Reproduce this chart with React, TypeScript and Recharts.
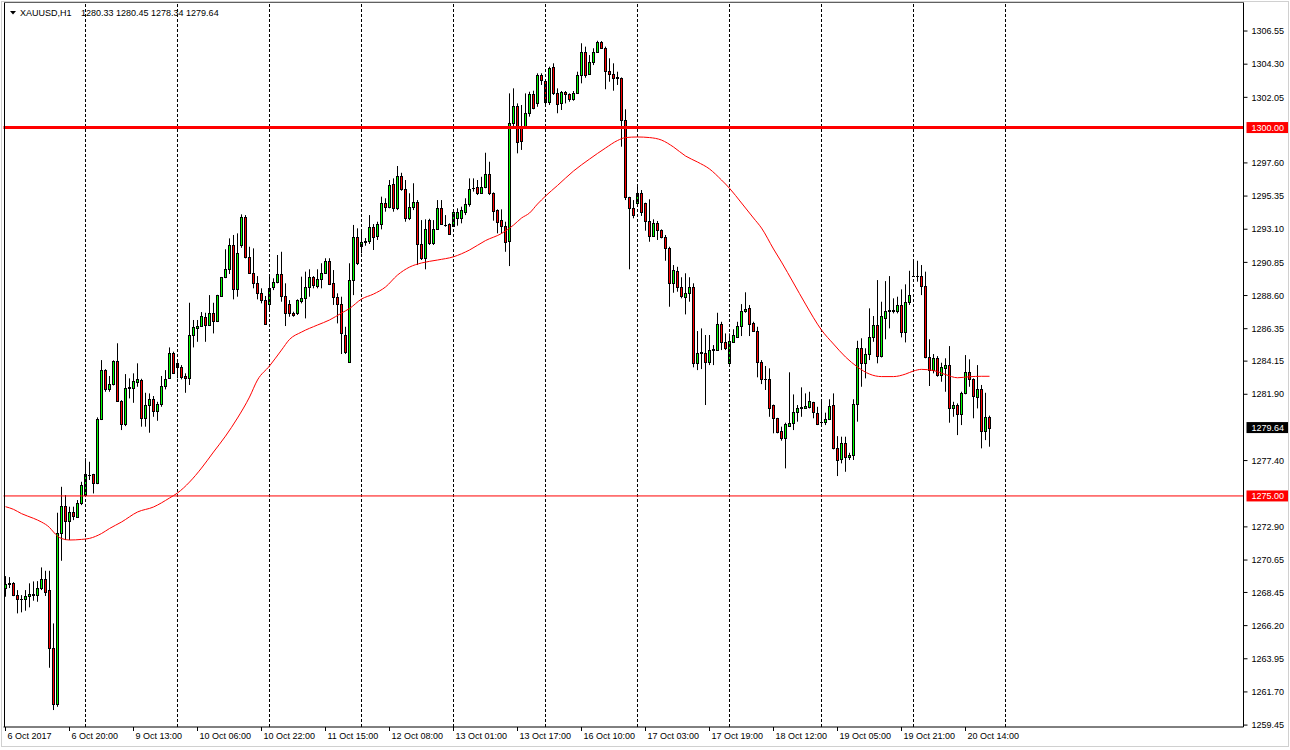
import { ComposedChart, Bar, Line, XAxis, YAxis, ReferenceLine } from "recharts";

// XAUUSD H1 candles (oldest first)
const OPEN = [
  1268.77, 1269.05, 1269.10, 1268.25, 1268.00, 1267.98, 1268.19, 1268.28, 1268.25, 1268.77,
  1269.34, 1268.61, 1264.70, 1260.85, 1272.46, 1274.31, 1273.32, 1273.89, 1273.60, 1274.54,
  1275.06, 1276.42, 1276.46, 1275.86, 1280.20, 1283.54, 1282.23, 1282.57, 1284.15, 1281.46,
  1279.86, 1282.30, 1282.34, 1282.75, 1282.87, 1280.31, 1281.17, 1281.56, 1280.78, 1281.22,
  1282.46, 1282.98, 1284.68, 1284.04, 1283.73, 1283.14, 1282.98, 1285.90, 1286.42, 1286.53,
  1287.12, 1286.58, 1287.43, 1286.86, 1288.60, 1289.84, 1290.38, 1292.03, 1289.02, 1292.03,
  1293.91, 1291.19, 1290.15, 1289.43, 1288.75, 1288.29, 1288.00, 1289.16, 1289.50, 1290.06,
  1288.60, 1288.00, 1287.39, 1287.39, 1288.25, 1288.41, 1289.16, 1289.84, 1289.25, 1289.70,
  1290.15, 1290.94, 1289.43, 1288.48, 1288.02, 1285.92, 1284.11, 1289.65, 1292.55, 1291.98,
  1292.21, 1292.27, 1293.27, 1292.64, 1293.45, 1294.86, 1294.63, 1296.17, 1294.52, 1296.71,
  1295.81, 1293.84, 1294.59, 1294.93, 1292.08, 1291.12, 1293.72, 1292.14, 1293.09, 1294.52,
  1293.41, 1293.45, 1293.34, 1293.84, 1293.84, 1294.25, 1294.79, 1295.92, 1295.98, 1295.54,
  1295.98, 1296.85, 1295.58, 1294.40, 1293.72, 1293.32, 1292.32, 1300.28, 1301.46, 1300.06,
  1300.06, 1301.00, 1302.26, 1301.69, 1303.57, 1303.16, 1301.75, 1304.09, 1302.32, 1301.64,
  1302.41, 1302.26, 1301.92, 1302.32, 1303.57, 1305.11, 1303.61, 1304.43, 1305.15, 1305.78,
  1305.38, 1303.86, 1303.61, 1303.45, 1303.38, 1300.51, 1295.27, 1294.52, 1294.90, 1295.58,
  1294.86, 1293.68, 1292.66, 1293.50, 1293.05, 1292.55, 1291.84, 1289.47, 1290.26, 1289.20,
  1288.52, 1288.79, 1289.20, 1284.04, 1284.77, 1284.72, 1284.11, 1284.88, 1284.90, 1286.67,
  1285.46, 1284.00, 1285.46, 1285.80, 1286.51, 1287.55, 1287.75, 1286.71, 1286.21, 1284.11,
  1282.93, 1282.93, 1281.17, 1280.27, 1279.40, 1278.91, 1279.76, 1279.93, 1280.67, 1280.94,
  1281.00, 1281.05, 1281.35, 1280.60, 1280.04, 1280.04, 1280.20, 1281.17, 1278.27, 1277.48,
  1278.57, 1277.62, 1277.77, 1281.24, 1285.02, 1284.00, 1284.61, 1285.76, 1286.60, 1284.49,
  1287.09, 1287.57, 1287.57, 1287.57, 1287.96, 1286.10, 1288.14, 1289.92, 1289.92, 1289.92,
  1289.25, 1284.45, 1283.54, 1284.34, 1283.20, 1283.66, 1283.88, 1280.94, 1281.17, 1280.54,
  1281.96, 1283.39, 1282.93, 1281.73, 1282.23, 1279.42, 1280.33,
];
const HIGH = [
  1269.56, 1269.49, 1269.15, 1268.61, 1268.27, 1268.61, 1269.07, 1269.20, 1269.22, 1270.15,
  1269.92, 1269.92, 1266.35, 1273.86, 1275.62, 1275.06, 1274.27, 1274.27, 1274.72, 1275.96,
  1277.55, 1277.32, 1276.50, 1280.33, 1284.22, 1283.60, 1283.14, 1284.20, 1285.36, 1281.50,
  1283.27, 1282.98, 1283.32, 1284.00, 1282.95, 1282.00, 1281.96, 1281.78, 1281.39, 1283.14,
  1283.54, 1285.08, 1284.79, 1284.08, 1283.88, 1283.32, 1288.11, 1286.94, 1286.94, 1287.48,
  1287.43, 1288.63, 1288.11, 1288.65, 1289.86, 1291.74, 1292.48, 1292.71, 1292.82, 1294.11,
  1294.06, 1291.91, 1291.80, 1289.92, 1289.09, 1288.57, 1289.88, 1289.77, 1291.35, 1291.57,
  1289.43, 1288.29, 1287.50, 1288.34, 1289.88, 1290.22, 1290.38, 1289.92, 1290.38, 1290.79,
  1291.13, 1291.13, 1290.33, 1288.75, 1288.52, 1286.48, 1290.79, 1293.39, 1293.16, 1292.93,
  1292.50, 1294.06, 1293.45, 1293.61, 1295.31, 1295.20, 1296.44, 1296.55, 1297.39, 1296.93,
  1296.44, 1295.54, 1296.22, 1295.08, 1293.72, 1293.77, 1293.81, 1293.72, 1295.08, 1295.08,
  1294.06, 1293.50, 1294.30, 1294.52, 1294.63, 1295.20, 1296.55, 1296.55, 1296.44, 1296.66,
  1298.29, 1297.68, 1295.60, 1294.45, 1294.45, 1293.61, 1302.32, 1302.66, 1301.64, 1301.53,
  1302.32, 1302.43, 1302.50, 1303.68, 1303.68, 1303.23, 1304.13, 1304.36, 1302.66, 1302.48,
  1302.48, 1302.32, 1302.48, 1303.79, 1305.72, 1305.49, 1304.92, 1305.38, 1305.89, 1305.87,
  1305.49, 1304.70, 1304.36, 1303.79, 1303.40, 1301.24, 1295.30, 1295.08, 1296.17, 1295.76,
  1294.90, 1295.13, 1293.77, 1293.66, 1293.09, 1292.71, 1291.91, 1290.67, 1290.55, 1289.84,
  1290.11, 1289.84, 1289.43, 1286.19, 1286.37, 1285.92, 1285.92, 1285.24, 1287.43, 1286.82,
  1286.03, 1286.03, 1286.31, 1286.82, 1288.02, 1288.82, 1287.96, 1286.82, 1286.48, 1284.22,
  1283.82, 1283.66, 1281.20, 1280.30, 1279.70, 1279.97, 1283.39, 1281.89, 1281.17, 1282.37,
  1281.96, 1282.07, 1281.39, 1281.05, 1281.56, 1280.65, 1281.56, 1281.96, 1279.06, 1279.02,
  1279.02, 1277.93, 1281.56, 1285.53, 1285.70, 1285.02, 1287.73, 1287.21, 1289.65, 1288.18,
  1289.58, 1289.92, 1288.41, 1288.52, 1289.02, 1289.36, 1290.28, 1290.89, 1290.96, 1290.67,
  1290.22, 1285.63, 1284.63, 1284.49, 1284.04, 1284.34, 1285.17, 1281.39, 1281.28, 1282.07,
  1284.56, 1284.27, 1282.98, 1283.88, 1282.53, 1282.00, 1280.45,
];
const LOW = [
  1268.16, 1268.75, 1268.20, 1267.03, 1267.10, 1267.21, 1267.44, 1267.89, 1267.82, 1268.61,
  1268.21, 1263.34, 1260.47, 1260.69, 1270.60, 1272.01, 1272.01, 1273.36, 1273.52, 1274.38,
  1274.95, 1276.08, 1275.17, 1275.80, 1280.15, 1282.07, 1282.07, 1282.50, 1281.40, 1279.47,
  1279.74, 1281.62, 1281.32, 1282.41, 1279.70, 1279.70, 1279.29, 1280.37, 1280.10, 1281.05,
  1282.23, 1282.95, 1283.33, 1282.98, 1282.91, 1282.00, 1282.53, 1285.08, 1285.46, 1286.48,
  1285.46, 1286.53, 1286.03, 1286.80, 1288.55, 1289.78, 1290.06, 1288.34, 1288.52, 1291.84,
  1291.12, 1290.10, 1289.09, 1288.34, 1288.07, 1286.60, 1287.62, 1288.97, 1289.43, 1288.18,
  1286.53, 1287.16, 1287.16, 1287.28, 1288.07, 1287.05, 1288.52, 1289.09, 1289.09, 1289.09,
  1290.10, 1289.31, 1287.96, 1286.71, 1284.63, 1284.63, 1284.10, 1288.63, 1290.67, 1291.46,
  1291.98, 1292.10, 1291.69, 1292.37, 1293.09, 1294.29, 1294.52, 1294.29, 1294.40, 1295.71,
  1293.61, 1293.72, 1294.40, 1290.67, 1291.01, 1290.38, 1292.03, 1292.03, 1293.05, 1293.39,
  1293.27, 1292.71, 1293.27, 1293.34, 1293.50, 1294.06, 1294.63, 1295.65, 1295.42, 1295.49,
  1295.88, 1295.42, 1293.68, 1292.82, 1292.82, 1291.57, 1290.60, 1299.95, 1298.25, 1298.48,
  1299.95, 1300.74, 1301.24, 1301.41, 1302.89, 1301.41, 1301.53, 1302.21, 1300.97, 1301.19,
  1301.64, 1301.75, 1301.82, 1302.28, 1303.00, 1303.38, 1303.57, 1304.24, 1305.08, 1305.33,
  1302.60, 1303.11, 1302.50, 1302.89, 1298.70, 1295.08, 1290.38, 1293.84, 1294.79, 1294.00,
  1293.00, 1292.25, 1292.59, 1292.37, 1292.48, 1290.96, 1287.84, 1288.79, 1288.86, 1288.41,
  1287.32, 1288.18, 1283.73, 1283.54, 1283.61, 1281.17, 1283.88, 1283.88, 1284.85, 1284.90,
  1284.90, 1283.77, 1285.42, 1285.76, 1285.85, 1287.43, 1285.85, 1286.14, 1283.05, 1282.59,
  1282.19, 1280.37, 1279.25, 1279.25, 1278.75, 1276.87, 1279.70, 1279.47, 1280.04, 1280.37,
  1280.97, 1280.94, 1280.27, 1279.81, 1279.70, 1279.81, 1280.15, 1278.16, 1276.35, 1277.21,
  1276.64, 1277.44, 1277.44, 1280.04, 1282.41, 1282.98, 1284.22, 1285.46, 1284.00, 1284.40,
  1285.63, 1286.37, 1287.39, 1287.39, 1285.76, 1285.42, 1287.96, 1289.88, 1289.54, 1288.63,
  1284.34, 1282.46, 1283.32, 1283.09, 1282.75, 1282.07, 1279.97, 1280.37, 1279.13, 1279.81,
  1281.90, 1282.41, 1280.27, 1280.94, 1278.23, 1278.79, 1278.34,
];
const CLOSE = [
  1269.00, 1269.10, 1268.25, 1267.98, 1268.00, 1268.19, 1268.32, 1268.35, 1268.77, 1269.34,
  1268.50, 1264.70, 1260.85, 1272.46, 1274.31, 1273.32, 1273.89, 1273.66, 1274.54, 1275.74,
  1276.46, 1276.42, 1275.90, 1280.20, 1283.54, 1282.23, 1282.59, 1284.15, 1281.46, 1279.86,
  1282.32, 1282.41, 1282.80, 1282.93, 1280.27, 1281.17, 1281.56, 1280.78, 1281.22, 1282.46,
  1282.91, 1284.68, 1283.36, 1283.73, 1283.09, 1282.98, 1285.90, 1286.44, 1286.53, 1287.21,
  1286.58, 1287.43, 1286.86, 1288.63, 1289.84, 1290.38, 1292.03, 1289.02, 1291.46, 1293.91,
  1291.19, 1290.15, 1289.43, 1288.75, 1288.29, 1286.65, 1289.09, 1289.50, 1290.06, 1288.59,
  1287.39, 1287.39, 1287.28, 1288.29, 1288.41, 1289.16, 1289.84, 1289.31, 1289.70, 1290.15,
  1290.94, 1289.36, 1288.48, 1288.02, 1286.03, 1284.75, 1289.65, 1292.55, 1290.79, 1292.21,
  1292.32, 1293.27, 1292.55, 1293.45, 1294.86, 1294.63, 1296.10, 1294.52, 1296.71, 1295.81,
  1293.84, 1294.59, 1294.93, 1292.08, 1291.12, 1293.09, 1292.18, 1293.09, 1294.52, 1293.43,
  1293.39, 1292.75, 1294.25, 1294.25, 1294.40, 1294.79, 1295.81, 1295.92, 1295.58, 1295.98,
  1296.85, 1295.58, 1294.36, 1293.61, 1293.32, 1292.25, 1300.33, 1301.46, 1299.04, 1299.09,
  1300.97, 1302.28, 1301.31, 1303.57, 1303.23, 1301.75, 1304.02, 1302.32, 1301.60, 1302.39,
  1302.26, 1301.92, 1302.32, 1303.57, 1305.11, 1303.57, 1304.43, 1305.15, 1305.78, 1305.38,
  1303.86, 1303.61, 1303.38, 1303.38, 1300.51, 1295.27, 1294.52, 1294.06, 1295.58, 1294.29,
  1293.68, 1292.66, 1293.50, 1293.05, 1292.55, 1291.80, 1289.47, 1290.33, 1289.20, 1288.57,
  1288.75, 1289.20, 1284.04, 1284.68, 1284.68, 1284.11, 1284.90, 1284.97, 1286.67, 1285.46,
  1285.02, 1285.51, 1285.92, 1286.53, 1287.55, 1287.68, 1286.67, 1286.21, 1284.11, 1282.91,
  1282.93, 1280.99, 1280.27, 1279.36, 1278.91, 1279.88, 1279.97, 1280.67, 1280.99, 1281.05,
  1281.10, 1281.44, 1280.67, 1279.86, 1280.04, 1280.20, 1281.10, 1278.27, 1277.44, 1278.57,
  1277.66, 1277.77, 1281.24, 1285.02, 1284.00, 1284.61, 1285.76, 1286.60, 1284.49, 1287.21,
  1287.57, 1287.62, 1287.62, 1287.96, 1286.14, 1288.14, 1288.63, 1289.92, 1289.92, 1289.25,
  1284.45, 1283.54, 1284.34, 1283.20, 1283.77, 1283.88, 1280.94, 1281.17, 1280.54, 1281.96,
  1283.39, 1282.93, 1281.80, 1282.23, 1279.42, 1280.33, 1279.64,
];

// moving average, read at these candle indexes
const MA_AT = [
  0, 2, 4, 7, 9, 11, 12, 13, 14, 16, 19, 21, 24, 26, 29, 33, 37, 41, 43, 46, 49, 52, 55, 58, 61, 63,
  66, 69, 71, 74, 78, 81, 84, 86, 89, 92, 95, 98, 101, 104, 108, 112, 116, 120, 124, 127, 129, 131,
  133, 135, 138, 142, 146, 150, 153, 155, 158, 161, 164, 167, 170, 173, 176, 179, 181, 184, 187, 189,
  192, 194, 197, 200, 204, 207, 210, 213, 216, 219, 222, 225, 227, 229, 232, 235, 238, 241, 244, 246,
];
const MA = [
  1274.27, 1274.09, 1273.80, 1273.48, 1273.23, 1272.86, 1272.55, 1272.28, 1272.11, 1272.01,
  1272.05, 1272.12, 1272.45, 1272.79, 1273.23, 1273.91, 1274.25, 1274.86, 1275.20, 1275.94,
  1276.89, 1277.98, 1279.06, 1280.29, 1281.71, 1282.87, 1283.82, 1284.90, 1285.62, 1286.12,
  1286.60, 1286.94, 1287.41, 1287.72, 1288.36, 1288.70, 1289.18, 1289.99, 1290.53, 1290.81,
  1291.01, 1291.23, 1291.69, 1292.33, 1292.81, 1293.38, 1293.86, 1294.20, 1294.81, 1295.35,
  1296.07, 1297.05, 1297.86, 1298.61, 1299.12, 1299.32, 1299.36, 1299.32, 1299.15, 1298.68,
  1298.07, 1297.66, 1297.19, 1296.44, 1295.88, 1294.88, 1293.86, 1293.18, 1291.76, 1290.87,
  1289.45, 1288.02, 1286.26, 1285.31, 1284.43, 1283.75, 1283.27, 1283.10, 1283.10, 1283.27,
  1283.48, 1283.59, 1283.51, 1283.24, 1283.02, 1283.09, 1283.12, 1283.12,
];

const TIME_AT = [0, 16, 32, 48, 64, 80, 96, 112, 128, 144, 160, 176, 192, 208, 224, 240];
const TIME_LABELS = [
  "6 Oct 2017", "6 Oct 20:00", "9 Oct 13:00", "10 Oct 06:00", "10 Oct 22:00", "11 Oct 15:00",
  "12 Oct 08:00", "13 Oct 01:00", "13 Oct 17:00", "16 Oct 10:00", "17 Oct 03:00", "17 Oct 19:00",
  "18 Oct 12:00", "19 Oct 05:00", "19 Oct 21:00", "20 Oct 14:00",
];
const GRID_AT = [20, 43, 66, 89, 112, 135, 158, 181, 204, 227, 250];
const PRICE_TICKS = [
  1259.45, 1261.70, 1263.95, 1266.20, 1268.45, 1270.65, 1272.90, 1277.40, 1281.90, 1284.15,
  1286.35, 1288.60, 1290.85, 1293.10, 1295.35, 1297.60, 1302.05, 1304.30, 1306.55,
];
const LEVEL_HI = 1300;
const LEVEL_LO = 1275;
const SLOTS = 310; // chart shift leaves empty slots on the right

const FONT = '"Liberation Sans", Arial, sans-serif';
const BULL = "#00ff00";
const BEAR = "#ff0000";

const rows = Array.from({ length: SLOTS }, (_, i) => {
  const row: any = { i };
  if (i < OPEN.length) {
    row.o = OPEN[i];
    row.h = HIGH[i];
    row.l = LOW[i];
    row.c = CLOSE[i];
    row.range = [LOW[i], HIGH[i]];
  }
  const k = MA_AT.indexOf(i);
  if (k >= 0) row.ma = MA[k];
  return row;
});

function Candle(props: any) {
  const { x, y, width, height, payload } = props;
  if (!payload || payload.o === undefined) return null;
  const { o, h, l, c } = payload;
  const top = Math.min(y, y + height);
  const span = Math.abs(height);
  const cx = Math.round(x + width / 2 - 0.5) + 0.5;
  const py = (p: number) => (h === l ? top : top + ((h - p) / (h - l)) * span);
  const bTop = Math.round(py(Math.max(o, c))) + 0.5;
  const bBot = Math.round(py(Math.min(o, c))) + 0.5;
  return (
    <g>
      <line x1={cx} x2={cx} y1={top} y2={top + span} stroke="#000" strokeWidth={1} />
      {bBot - bTop < 1 ? (
        <line x1={cx - 1.5} x2={cx + 1.5} y1={bTop} y2={bTop} stroke="#000" strokeWidth={1} />
      ) : (
        <rect x={cx - 1} y={bTop} width={2} height={bBot - bTop} fill={c >= o ? BULL : BEAR} stroke="#000" strokeWidth={1} />
      )}
    </g>
  );
}

function TimeTick(props: any) {
  const { x, y, payload } = props;
  const k = TIME_AT.indexOf(payload.value);
  if (k < 0) return null;
  return (
    <g>
      <line x1={x} x2={x} y1={y} y2={y + 4} stroke="#000" />
      <text x={x + 2} y={y + 12} fontSize={9} fontFamily={FONT} fill="#000">
        {TIME_LABELS[k]}
      </text>
    </g>
  );
}

function PriceTag(props: any) {
  const { viewBox, value, bg } = props;
  if (!viewBox) return null;
  const x = viewBox.x + viewBox.width + 3;
  const y = viewBox.y;
  return (
    <g>
      <rect x={x} y={y - 5.5} width={42} height={11} fill={bg} />
      <text x={x + 5} y={y} dy="0.355em" fontSize={9} fontFamily={FONT} fill="#fff">
        {value.toFixed(2)}
      </text>
    </g>
  );
}

export default function App() {
  const last = OPEN.length - 1;
  const ohlc = [OPEN[last], HIGH[last], LOW[last], CLOSE[last]].map((v) => v.toFixed(2)).join(" ");

  return (
    <div style={{ position: "relative", width: 1290, height: 750, background: "#fff" }}>
      <style>{"body{margin:0}"}</style>
      <ComposedChart
        width={1290}
        height={750}
        data={rows}
        margin={{ top: 2, right: 0, bottom: 0, left: 3.5 }}
      >
        <XAxis
          dataKey="i"
          type="category"
          interval={0}
          tick={<TimeTick />}
          tickLine={false}
          tickSize={0}
          tickMargin={0}
          axisLine={{ stroke: "#000" }}
          height={23}
        />
        <YAxis
          orientation="right"
          type="number"
          domain={[1259.32, 1308.52]}
          allowDataOverflow
          ticks={PRICE_TICKS}
          interval={0}
          tickFormatter={(v: number) => v.toFixed(2)}
          tick={{ fontSize: 9, fill: "#000", fontFamily: FONT }}
          tickSize={4}
          tickMargin={4}
          axisLine={{ stroke: "#000" }}
          tickLine={{ stroke: "#000" }}
          width={46.5}
        />
        {GRID_AT.map((g) => (
          <ReferenceLine key={g} x={g} stroke="#000" strokeDasharray="3 2" strokeWidth={1} />
        ))}
        <Bar dataKey="range" shape={(p: any) => <Candle {...p} />} isAnimationActive={false} />
        <Line
          dataKey="ma"
          type="monotone"
          stroke="#ff0000"
          strokeWidth={1}
          dot={false}
          activeDot={false}
          connectNulls
          isAnimationActive={false}
        />
        <ReferenceLine y={LEVEL_HI} stroke="#ff0000" strokeWidth={3} label={<PriceTag value={LEVEL_HI} bg="#ff0000" />} />
        <ReferenceLine y={LEVEL_LO} stroke="#ff0000" strokeWidth={1} label={<PriceTag value={LEVEL_LO} bg="#ff0000" />} />
        <ReferenceLine y={CLOSE[last]} stroke="none" label={<PriceTag value={CLOSE[last]} bg="#000" />} />
      </ComposedChart>
      <svg
        width={1290}
        height={750}
        style={{ position: "absolute", left: 0, top: 0, pointerEvents: "none" }}
      >
        <rect x={1.5} y={1.5} width={1287} height={745} fill="none" stroke="#d0d0d0" />
        <line x1={4.5} x2={4.5} y1={2} y2={727} stroke="#000" />
        <line x1={4} x2={1244} y1={2.5} y2={2.5} stroke="#606060" />
        <polygon points="10,11 16,11 13,14.5" fill="#000" />
        <text x={20} y={16} fontSize={9} fontFamily={FONT} fill="#000">XAUUSD,H1</text>
        <text x={81} y={16} fontSize={9} fontFamily={FONT} fill="#000">{ohlc}</text>
      </svg>
    </div>
  );
}
